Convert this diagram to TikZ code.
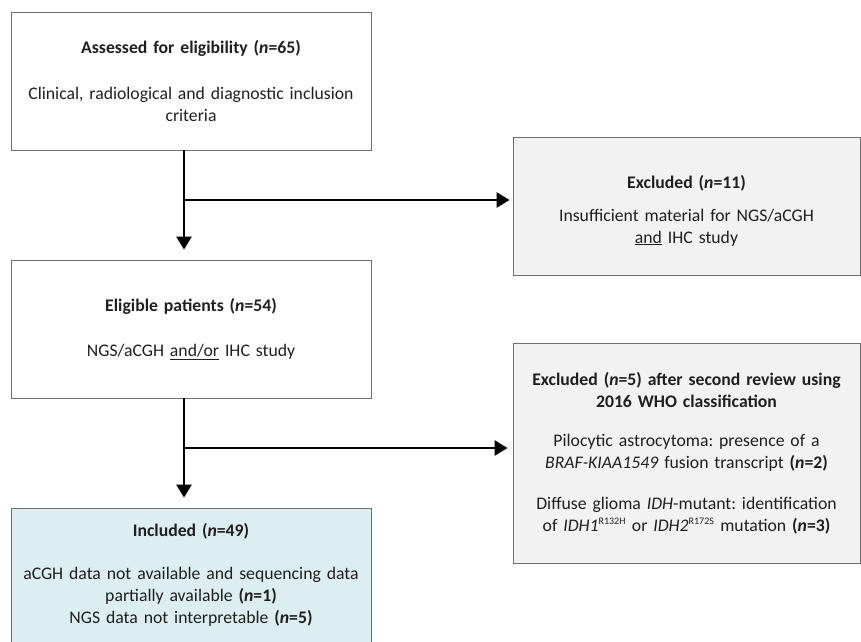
\documentclass[tikz,border=0pt]{standalone}
\usepackage{fontspec}
\setmainfont{Carlito}
\frenchspacing
\usetikzlibrary{arrows.meta,positioning}
\definecolor{exclgray}{RGB}{242,242,242}
\definecolor{inclblue}{RGB}{221,238,241}
\definecolor{framegray}{RGB}{110,110,110}
\newcommand\nval[1]{\textbf{(\textit{n}=#1)}}
\tikzset{
  flowbox/.style={draw=framegray,line width=0.9pt,align=center,inner sep=0pt,
    font=\fontsize{17.7}{22}\selectfont,text=black!88},
  leftbox/.style={flowbox,minimum width=360pt,text width=352pt},
  rightbox/.style={flowbox,fill=exclgray,minimum width=347pt,text width=342pt},
  flowarrow/.style={line width=2.7pt,-{Triangle[width=15pt,length=13pt]}},
}
\begin{document}
\begin{tikzpicture}[x=1pt,y=-1pt]
  \useasboundingbox (0,0) rectangle (861,641);
  \clip (0,0) rectangle (861,641);
  % left column
  \node[leftbox,minimum height=138pt] (assessed) at (191,81)
    {\textbf{Assessed for eligibility (\textit{n}=65)}\\[24pt]
     Clinical, radiological and diagnostic inclusion\\ criteria};
  \node[leftbox,minimum height=138pt] (eligible) at (191,329)
    {\textbf{Eligible patients (\textit{n}=54)}\\[23pt]
     NGS/aCGH \underline{and/or} IHC study};
  \node[leftbox,fill=inclblue,minimum height=134pt] (included) at (191,575)
    {\textbf{Included (\textit{n}=49)}\\[21pt]
     aCGH data not available and sequencing data\\
     partially available \nval{1}\\
     NGS data not interpretable \nval{5}};
  % right column
  \node[rightbox,minimum height=138pt] (excl1) at (686.5,206)
    {\rule{0pt}{22pt}\textbf{Excluded (\textit{n}=11)}\\[11pt]
     Insufficient material for NGS/aCGH\\ \underline{and} IHC study};
  \node[rightbox,minimum height=220pt] (excl2) at (686.5,453)
    {\textbf{Excluded (\textit{n}=5) after second review using}\\
     \textbf{2016 WHO classification}\\[17pt]
     Pilocytic astrocytoma: presence of a\\
     \textit{BRAF-KIAA1549} fusion transcript \nval{2}\\[19pt]
     Diffuse glioma \textit{IDH}-mutant: identification\\
     of \textit{IDH1}\textsuperscript{\fontsize{10}{10}\selectfont R132H} or
     \textit{IDH2}\textsuperscript{\fontsize{10}{10}\selectfont R172S} mutation \nval{3}};
  % connectors
  \coordinate (split1) at (184,200);
  \coordinate (split2) at (184,448);
  \draw[flowarrow,shorten >=10pt] (assessed.south -| split1) -- (eligible.north -| split1);
  \draw[flowarrow,shorten >=3pt] (split1) -- (excl1.west |- split1);
  \draw[flowarrow,shorten >=10pt] (eligible.south -| split2) -- (included.north -| split2);
  \draw[flowarrow,shorten >=5pt] (split2) -- (excl2.west |- split2);
\end{tikzpicture}
\end{document}
